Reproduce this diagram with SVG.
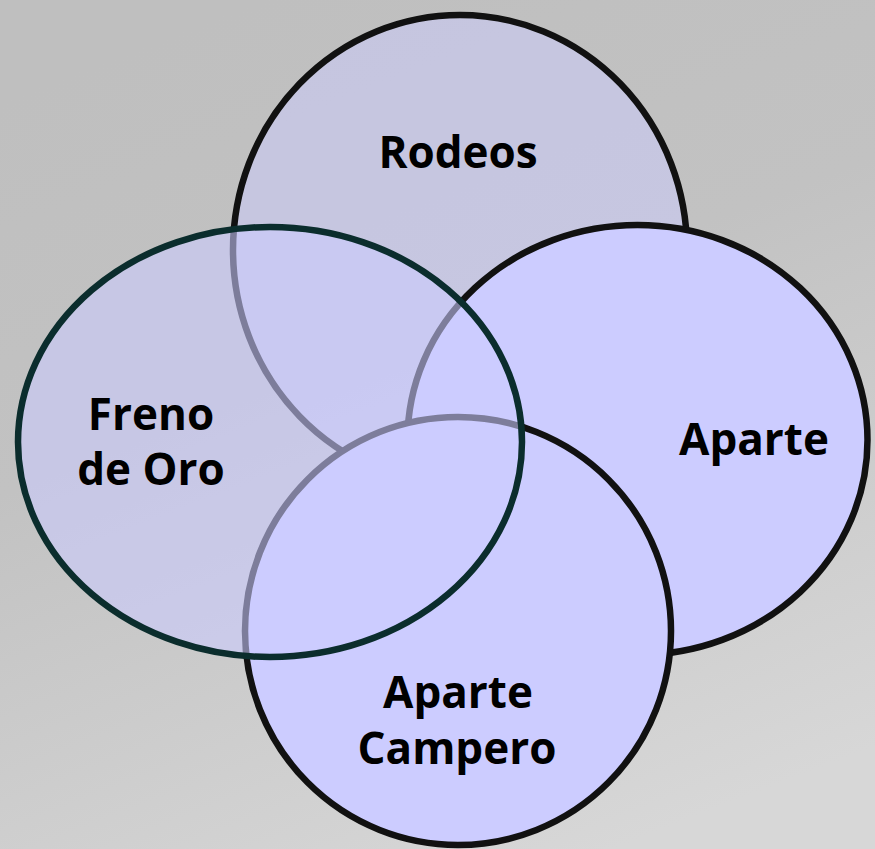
<svg xmlns="http://www.w3.org/2000/svg" width="875" height="849" viewBox="0 0 875 849">
  <defs>
    <linearGradient id="bg" x1="0.3" y1="0" x2="0.7" y2="1">
      <stop offset="0" stop-color="#bfbfbf"/>
      <stop offset="0.4" stop-color="#c2c2c2"/>
      <stop offset="1" stop-color="#d7d7d7"/>
    </linearGradient>
  </defs>
  <style>
    .shape { stroke-width: 6.5; }
    .solid { fill: #ccccff; stroke: #111111; }
    .soft { fill: #ccccff; fill-opacity: 0.5; stroke: #111111; }
    .glass { fill: #ccccff; fill-opacity: 0.58; stroke: #0b2d2d; }
    .label { font-family: "Open Sans", "Noto Sans", "Liberation Sans", sans-serif; font-weight: 700; font-size: 44px; fill: #000000; text-anchor: middle; }
  </style>
  <rect x="0" y="0" width="875" height="849" fill="url(#bg)"/>
  <g id="rodeos">
    <ellipse class="shape soft" cx="460" cy="250" rx="227" ry="235"/>
    <text class="label" x="458" y="168">Rodeos</text>
  </g>
  <g id="aparte">
    <ellipse class="shape solid" cx="637.5" cy="440" rx="230" ry="215"/>
    <text class="label" x="754" y="455">Aparte</text>
  </g>
  <g id="aparte-campero">
    <ellipse class="shape solid" cx="458" cy="631" rx="213" ry="214"/>
    <text class="label" x="458" y="708">Aparte</text>
    <text class="label" x="457" y="764">Campero</text>
  </g>
  <g id="freno-de-oro">
    <ellipse class="shape glass" cx="270" cy="442" rx="252" ry="215"/>
    <text class="label" x="151" y="430">Freno</text>
    <text class="label" x="151" y="485">de Oro</text>
  </g>
</svg>
